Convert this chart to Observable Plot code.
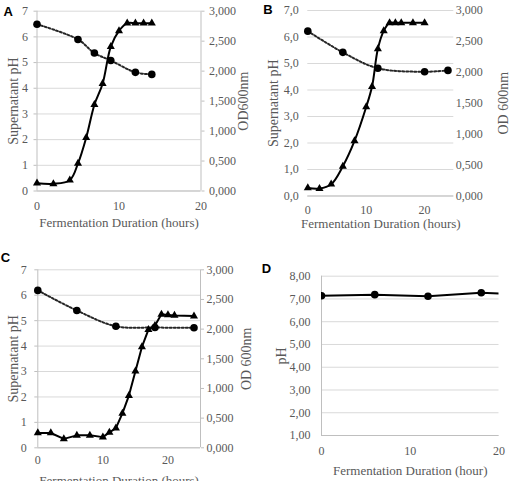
<!DOCTYPE html>
<html>
<head>
<meta charset="utf-8">
<script src="https://cdn.jsdelivr.net/npm/d3@7"></script>
<script src="https://cdn.jsdelivr.net/npm/@observablehq/plot@0.6"></script>
<style>
  body { margin: 0; background: #fff; }
  #fig { position: relative; width: 511px; height: 481px; overflow: hidden; background: #fff; }
  #fig svg { position: absolute; left: 0; top: 0; }
</style>
</head>
<body>
<div id="fig"></div>
<script>
// ---- Panel A: OD600 (triangles) and supernatant pH (circles) ----
const hoursA_OD = [0, 2, 4, 5, 6, 7, 8, 9, 10, 11, 12, 13, 14];
const odA = [0.13, 0.12, 0.18, 0.46, 0.89, 1.44, 1.79, 2.41, 2.67, 2.80, 2.80, 2.80, 2.80];
const hoursA_pH = [0, 5, 7, 9, 12, 14];
const phA = [6.49, 5.90, 5.37, 5.08, 4.62, 4.54];

// ---- Panel B ----
const hoursB_OD = [0, 2, 4, 6, 8, 10, 11, 12, 13, 14, 15, 16, 18, 20];
const odB = [0.13, 0.12, 0.19, 0.48, 0.89, 1.44, 1.77, 2.38, 2.67, 2.80, 2.80, 2.80, 2.80, 2.80];
const hoursB_pH = [0, 6, 12, 20, 24];
const phB = [6.22, 5.42, 4.82, 4.69, 4.74];

// ---- Panel C ----
const hoursC_OD = [0, 2, 4, 6, 8, 10, 11, 12, 13, 14, 15, 16, 17, 18, 19, 20, 21, 24];
const odC = [0.25, 0.25, 0.15, 0.21, 0.21, 0.18, 0.26, 0.33, 0.58, 0.88, 1.29, 1.70, 1.99, 2.06, 2.25, 2.24, 2.23, 2.22];
const hoursC_pH = [0, 6, 12, 18, 24];
const phC = [6.19, 5.40, 4.78, 4.73, 4.72];

// ---- Panel D: pH only ----
const hoursD = [0, 6, 12, 18, 24];
const phD = [7.14, 7.19, 7.12, 7.27, 7.18];

// ---- Tick values ----
const xTicks = [0, 10, 20];
const phTicks = [0, 1, 2, 3, 4, 5, 6, 7];
const phTicksD = [1, 2, 3, 4, 5, 6, 7, 8];
const odTicks = [0, 0.5, 1, 1.5, 2, 2.5, 3];

// ---- Shared styling ----
const W = 511, H = 481;
const INK = "#595959", GRID = "#d9d9d9", AXIS = "#bfbfbf";
const SERIF = "Liberation Serif, Times New Roman, DejaVu Serif, serif";
const SANS = "Liberation Sans, Arial, sans-serif";
const dec = (n) => (v) => d3.format(`.${n}f`)(v).replace(".", ",");

const fig = document.getElementById("fig");

// One full-size transparent layer whose frame is the panel's plot area
function layer(frame, xDomain, yDomain, marks) {
  const [x0, y0, x1, y1] = frame;
  return Plot.plot({
    width: W, height: H,
    marginLeft: x0, marginRight: W - x1, marginTop: y0, marginBottom: H - y1,
    x: {domain: xDomain, axis: null},
    y: {domain: yDomain, axis: null},
    style: `background: transparent; font-family: ${SERIF}; font-size: 12px; color: ${INK}; overflow: visible;`,
    marks
  });
}

function title(text, opts) {
  return Plot.text([text], {text: (d) => d, fill: INK, fontFamily: SERIF, lineAnchor: "middle", textAnchor: "middle", ...opts});
}

function letter(text, frame, [lx, ly]) {
  return Plot.text([text], {text: (d) => d, frameAnchor: "top-left", dx: lx - frame[0], dy: ly - frame[1],
    fontFamily: SANS, fontWeight: "bold", fontSize: 13, fill: "#000", lineAnchor: "middle", textAnchor: "middle"});
}

function panel(cfg) {
  const {frame, xDomain, phDomain, phTickValues, phFormat, ph, phHours, phCurve, phDotted,
         od, odHours, odCurve, leftLine, rightLine, leftTick, leftPad, rightTick, rightPad,
         xPad, leftTitle, leftTitleDx, rightTitle, rightTitleDx, xTitle, xTitleDy, tag, tagPos, clip} = cfg;

  const base = [
    Plot.gridY(phTickValues, {stroke: GRID, strokeOpacity: 1}),
    Plot.ruleY([phDomain[0]], {stroke: AXIS}),
    leftLine ? Plot.ruleX([xDomain[0]], {stroke: AXIS}) : null,
    Plot.axisY({anchor: "left", ticks: phTickValues, tickFormat: phFormat, tickSize: leftTick, tickPadding: leftPad,
      stroke: AXIS, fill: INK, fontSize: 12, label: null}),
    Plot.axisX({ticks: xTicks, tickSize: 0, tickPadding: xPad, fill: INK, fontSize: 12, label: null, tickFormat: (d) => String(d)}),
    title(leftTitle, {frameAnchor: "left", dx: leftTitleDx, rotate: -90, fontSize: 14}),
    title(xTitle, {frameAnchor: "bottom", dy: xTitleDy, fontSize: 13}),
    letter(tag, frame, tagPos),
    Plot.line(ph, {x: phHours, y: ph, curve: phCurve, stroke: phDotted ? "#262626" : "#000",
      strokeWidth: 2, strokeDasharray: phDotted ? "2,2" : null, clip}),
    Plot.dot(ph, {x: phHours, y: ph, r: 3.8, fill: "#000", clip})
  ].filter(Boolean);
  fig.appendChild(layer(frame, xDomain, phDomain, base));

  if (od) {
    const over = [
      rightLine ? Plot.ruleX([xDomain[1]], {stroke: AXIS}) : null,
      Plot.axisY({anchor: "right", ticks: odTicks, tickFormat: dec(3), tickSize: rightTick, tickPadding: rightPad,
        stroke: AXIS, fill: INK, fontSize: 12, label: null}),
      title(rightTitle, {frameAnchor: "right", dx: rightTitleDx, rotate: -90, fontSize: 14}),
      Plot.line(od, {x: odHours, y: od, curve: odCurve, stroke: "#000", strokeWidth: 2}),
      Plot.dot(od, {x: odHours, y: od, symbol: "triangle", r: 3, fill: "#000"})
    ].filter(Boolean);
    fig.appendChild(layer(frame, xDomain, [0, 3], over));
  }
}

// A
panel({
  frame: [36.5, 10.7, 200.5, 190.5], xDomain: [0, 20],
  phDomain: [0, 7], phTickValues: phTicks, phFormat: dec(0),
  ph: phA, phHours: hoursA_pH, phCurve: "catmull-rom", phDotted: true,
  od: odA, odHours: hoursA_OD, odCurve: "catmull-rom",
  leftLine: true, rightLine: true, leftTick: 3, leftPad: 6, rightTick: 3, rightPad: 5, xPad: 10,
  leftTitle: "Supernatant pH", leftTitleDx: -23.5, rightTitle: "OD600nm", rightTitleDx: 42.5,
  xTitle: "Fermentation Duration (hours)", xTitleDy: 32, tag: "A", tagPos: [7.7, 11.3]
});

// B
panel({
  frame: [307.3, 10, 453.3, 195.5], xDomain: [0, 25],
  phDomain: [0, 7], phTickValues: phTicks, phFormat: dec(1),
  ph: phB, phHours: hoursB_pH, phCurve: "catmull-rom", phDotted: true,
  od: odB, odHours: hoursB_OD, odCurve: "catmull-rom",
  leftLine: false, rightLine: false, leftTick: 0, leftPad: 9, rightTick: 0, rightPad: 2, xPad: 9,
  leftTitle: "Supernatant pH", leftTitleDx: -34, rightTitle: "OD 600nm", rightTitleDx: 50,
  xTitle: "Fermentation Duration (hours)", xTitleDy: 27.5, tag: "B", tagPos: [267.5, 9.5]
});

// C
panel({
  frame: [37.3, 269.3, 200, 447.3], xDomain: [0, 25],
  phDomain: [0, 7], phTickValues: phTicks, phFormat: dec(0),
  ph: phC, phHours: hoursC_pH, phCurve: "catmull-rom", phDotted: true,
  od: odC, odHours: hoursC_OD, odCurve: "linear",
  leftLine: true, rightLine: true, leftTick: 3, leftPad: 8, rightTick: 3, rightPad: 3, xPad: 8,
  leftTitle: "Supernatant pH", leftTitleDx: -24, rightTitle: "OD 600nm", rightTitleDx: 46,
  xTitle: "Fermentation Duration (hours)", xTitleDy: 33, tag: "C", tagPos: [5, 257.7]
});

// D
panel({
  frame: [321, 275.7, 498.5, 435], xDomain: [0, 20],
  phDomain: [1, 8], phTickValues: phTicksD, phFormat: dec(2),
  ph: phD, phHours: hoursD, phCurve: "linear", phDotted: false, clip: true,
  od: null,
  leftLine: true, leftTick: 0, leftPad: 11, xPad: 10.5,
  leftTitle: "pH", leftTitleDx: -40,
  xTitle: "Fermentation Duration (hour)", xTitleDy: 35, tag: "D", tagPos: [266, 268.3]
});
</script>
</body>
</html>
